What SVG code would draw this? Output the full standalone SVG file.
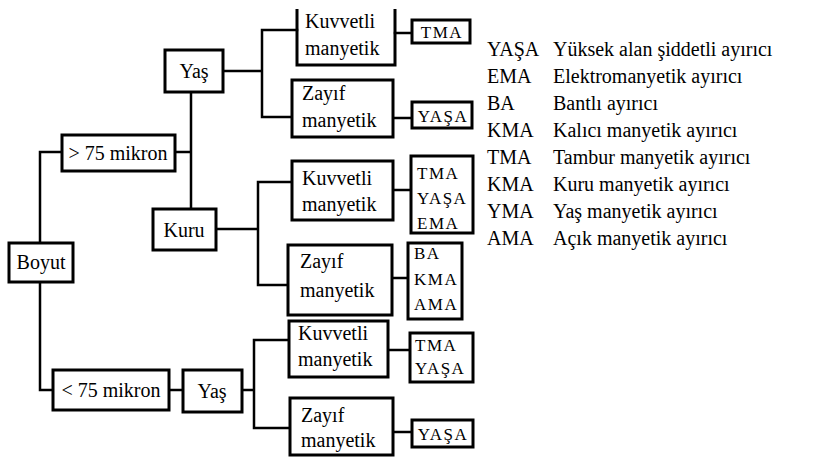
<svg xmlns="http://www.w3.org/2000/svg" width="813" height="457" viewBox="0 0 813 457" font-family="'Liberation Serif', 'Times New Roman', serif">
  <style>
    .box { fill: #fff; stroke: #000; stroke-width: 3; }
    .open { fill: none; stroke: #000; stroke-width: 3; }
    .wire { fill: none; stroke: #000; stroke-width: 2.5; stroke-linecap: square; }
    text { font-family: "Liberation Serif", "Times New Roman", serif; fill: #000; }
    .lbl { font-size: 20px; }
    .mid { text-anchor: middle; }
    .code { font-size: 17px; letter-spacing: 1.5px; }
    .leg { font-size: 20px; }
  </style>
  <rect width="813" height="457" fill="#fff"/>

  <!-- connectors -->
  <g id="connectors">
    <!-- Boyut split -->
    <path class="wire" d="M62 152 H40 V243 M40 282 V390 H53"/>
    <!-- > 75 mikron to Yaş / Kuru -->
    <path class="wire" d="M175 152 H191 M191 92 V209"/>
    <!-- upper Yaş branch -->
    <path class="wire" d="M223 71 H262 M297 30 H262 V117 H292"/>
    <path class="wire" d="M395 33 H412 M393 118 H412"/>
    <!-- Kuru branch -->
    <path class="wire" d="M216 229 H258 M292 182 H258 V285 H288"/>
    <path class="wire" d="M393 190 H411 M392 278 H408"/>
    <!-- < 75 mikron branch -->
    <path class="wire" d="M169 390 H183 M242 390 H254 M289 340 H254 V428 H290"/>
    <path class="wire" d="M388 350 H410 M393 432 H412"/>
  </g>

  <!-- decision nodes -->
  <g id="boyut"><rect class="box" x="9" y="243" width="64" height="39"/><text class="lbl mid" x="41" y="269">Boyut</text></g>
  <g id="gt75"><rect class="box" x="62" y="135" width="113" height="36"/><text class="lbl mid" x="118" y="160">&gt; 75 mikron</text></g>
  <g id="lt75"><rect class="box" x="53" y="370" width="116" height="40"/><text class="lbl mid" x="111" y="397">&lt; 75 mikron</text></g>
  <g id="yas-ust"><rect class="box" x="165" y="50" width="58" height="42"/><text class="lbl mid" x="194" y="78">Yaş</text></g>
  <g id="kuru"><rect class="box" x="153" y="209" width="63" height="41"/><text class="lbl mid" x="184" y="237">Kuru</text></g>
  <g id="yas-alt"><rect class="box" x="183" y="370" width="59" height="42"/><text class="lbl mid" x="212" y="398">Yaş</text></g>

  <!-- field-strength nodes -->
  <g id="kuvvetli-1"><path class="open" d="M297 9 V65 H395 V9"/><text class="lbl" x="305" y="28">Kuvvetli</text><text class="lbl" x="305" y="55">manyetik</text></g>
  <g id="zayif-1"><rect class="box" x="292" y="80" width="101" height="57"/><text class="lbl" x="302" y="100">Zayıf</text><text class="lbl" x="302" y="127">manyetik</text></g>
  <g id="kuvvetli-2"><rect class="box" x="292" y="161" width="101" height="59"/><text class="lbl" x="302" y="185">Kuvvetli</text><text class="lbl" x="302" y="211">manyetik</text></g>
  <g id="zayif-2"><rect class="box" x="288" y="245" width="104" height="70"/><text class="lbl" x="300" y="268">Zayıf</text><text class="lbl" x="300" y="297">manyetik</text></g>
  <g id="kuvvetli-3"><rect class="box" x="289" y="321" width="99" height="56"/><text class="lbl" x="298" y="340">Kuvvetli</text><text class="lbl" x="298" y="366">manyetik</text></g>
  <g id="zayif-3"><rect class="box" x="290" y="398" width="103" height="57"/><text class="lbl" x="301" y="422">Zayıf</text><text class="lbl" x="301" y="447">manyetik</text></g>

  <!-- separator nodes -->
  <g id="ayirici-1"><rect class="box" x="412" y="20" width="58" height="23"/><text class="code mid" x="442" y="38">TMA</text></g>
  <g id="ayirici-2"><rect class="box" x="412" y="102" width="60" height="26"/><text class="code mid" x="443" y="122">YAŞA</text></g>
  <g id="ayirici-3"><rect class="box" x="411" y="156" width="62" height="77"/><text class="code" x="417" y="179">TMA</text><text class="code" x="417" y="204">YAŞA</text><text class="code" x="417" y="229">EMA</text></g>
  <g id="ayirici-4"><rect class="box" x="408" y="243" width="54" height="76"/><text class="code" x="414" y="259">BA</text><text class="code" x="414" y="285">KMA</text><text class="code" x="414" y="310">AMA</text></g>
  <g id="ayirici-5"><rect class="box" x="410" y="333" width="63" height="49"/><text class="code" x="415" y="351">TMA</text><text class="code" x="415" y="374">YAŞA</text></g>
  <g id="ayirici-6"><rect class="box" x="412" y="420" width="61" height="27"/><text class="code mid" x="443" y="440">YAŞA</text></g>

  <!-- abbreviation key -->
  <g id="legend" class="leg">
    <text x="487" y="56">YAŞA</text><text x="553" y="56">Yüksek alan şiddetli ayırıcı</text>
    <text x="487" y="83">EMA</text><text x="553" y="83">Elektromanyetik ayırıcı</text>
    <text x="487" y="110">BA</text><text x="553" y="110">Bantlı ayırıcı</text>
    <text x="487" y="137">KMA</text><text x="553" y="137">Kalıcı manyetik ayırıcı</text>
    <text x="487" y="164">TMA</text><text x="553" y="164">Tambur manyetik ayırıcı</text>
    <text x="487" y="191">KMA</text><text x="553" y="191">Kuru manyetik ayırıcı</text>
    <text x="487" y="218">YMA</text><text x="553" y="218">Yaş manyetik ayırıcı</text>
    <text x="487" y="245">AMA</text><text x="553" y="245">Açık manyetik ayırıcı</text>
  </g>
</svg>
